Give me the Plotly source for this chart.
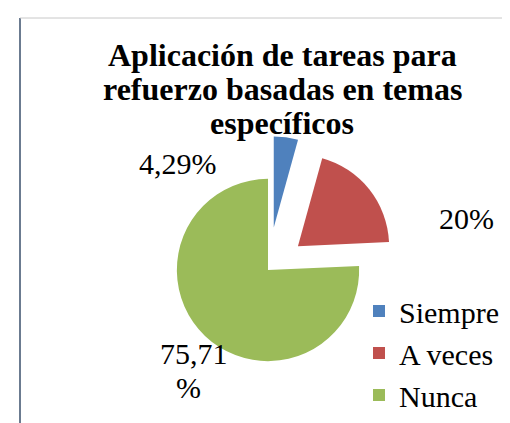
import plotly.graph_objects as go

labels = ["Siempre", "A veces", "Nunca"]
values = [4.29, 20.0, 75.71]
label_lines = [["4,29%"], ["20%"], ["75,71", "%"]]
title_lines = ["Aplicación de tareas para", "refuerzo basadas en temas", "específicos"]
colors = ["#4F81BD", "#C0504D", "#9BBB59"]
pulls = [0.47, 0.42, 0.0]

W, H = 510, 423
SERIF = "Liberation Serif, Times New Roman, serif"

fig = go.Figure(go.Pie(
    labels=labels, values=values, sort=False, direction="clockwise", rotation=0,
    marker=dict(colors=colors, line=dict(width=0)),
    pull=pulls, textinfo="none", hoverinfo="label+percent",
    domain=dict(x=[126 / W, 394 / W], y=[(H - 396) / H, (H - 128) / H]),
))

# data label positions (pixel centers of each text line)
label_pos = [[(170, 155)], [(458, 210)], [(186, 345), (180, 379)]]
for lines, poss in zip(label_lines, label_pos):
    for t, (px, py) in zip(lines, poss):
        fig.add_annotation(x=px / W, y=1 - py / H, xref="paper", yref="paper",
                           text=t, showarrow=False,
                           font=dict(family=SERIF, size=30, color="#000"),
                           xanchor="center", yanchor="middle")

title_y = [47, 81, 115]
for t, py in zip(title_lines, title_y):
    fig.add_annotation(x=274 / W, y=1 - py / H, xref="paper", yref="paper",
                       text="<b>" + t + "</b>", showarrow=False,
                       font=dict(family=SERIF, size=32, color="#000"),
                       xanchor="center", yanchor="middle")

fig.add_shape(type="line", xref="paper", yref="paper", x0=12 / W, x1=12 / W, y0=0, y1=1 - 10 / H,
              line=dict(color="#6b7b90", width=2))
fig.add_shape(type="line", xref="paper", yref="paper", x0=12 / W, x1=1, y0=1 - 10 / H, y1=1 - 10 / H,
              line=dict(color="#c8c8c8", width=1))

fig.update_layout(
    width=W, height=H, margin=dict(l=0, r=0, t=0, b=0),
    paper_bgcolor="white", plot_bgcolor="white",
    font=dict(family=SERIF),
    legend=dict(x=351 / W, y=1 - 277 / H, xanchor="left", yanchor="top",
                font=dict(family=SERIF, size=30, color="#000"),
                bgcolor="rgba(0,0,0,0)", itemwidth=30),
    showlegend=True,
)

fig.write_html("out.html")
